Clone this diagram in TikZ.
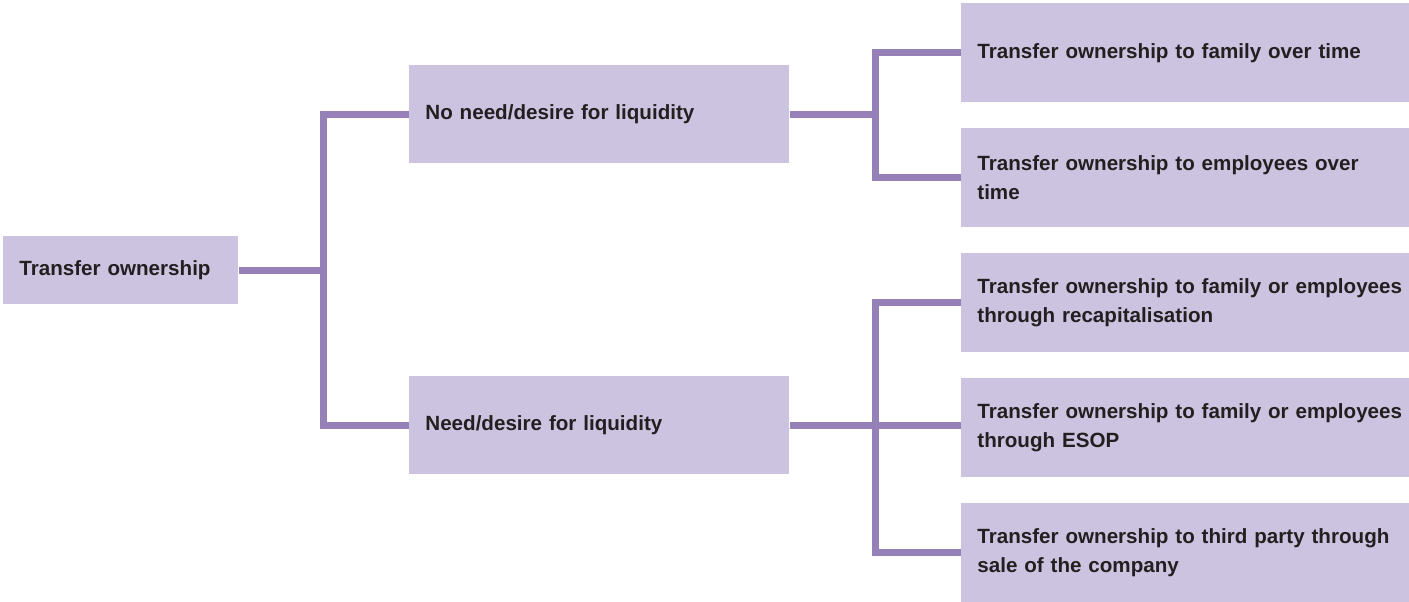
\documentclass[tikz,border=0pt]{standalone}
\usepackage{fontspec}
\setmainfont{Liberation Sans}
\usepackage{tikz}
\usetikzlibrary{calc}
\definecolor{boxfill}{RGB}{203,195,223}
\definecolor{linkcol}{RGB}{150,128,184}
\definecolor{txtcol}{RGB}{35,31,32}
\hyphenpenalty=10000
\exhyphenpenalty=10000

\begin{document}
\begin{tikzpicture}[x=0.5pt,y=-0.5pt,
  box/.style={fill=boxfill,anchor=north west,inner xsep=8pt,inner ysep=0pt,align=left,
    text=txtcol,font=\fontsize{10.3}{14.5}\selectfont\bfseries},
  rootbox/.style={box,text width=101.5pt,minimum height=34pt},
  midbox/.style={box,text width=174pt,minimum height=49pt},
  leafbox/.style={box,text width=216pt,minimum height=49.5pt},
  link/.style={draw=linkcol,line width=3.5pt}]
\clip (0,0) rectangle (1409,601);

% boxes
\node[rootbox] (root) at (3,236) {Transfer ownership};
\node[midbox] (noliq) at (409,65) {No need/desire for liquidity};
\node[midbox] (liq) at (409,376) {Need/desire for liquidity};
\node[leafbox] (family) at (961,3) {Transfer ownership to family over time};
\node[leafbox] (employees) at (961,128) {Transfer ownership to employees over\\time};
\node[leafbox] (recap) at (961,253) {Transfer ownership to family or employees\\through recapitalisation};
\node[leafbox] (esop) at (961,378) {Transfer ownership to family or employees\\through ESOP};
\node[leafbox] (sale) at (961,503) {Transfer ownership to third party through\\sale of the company};

% forks
\coordinate (forkA) at ($(root.east)!.5!(noliq.west)$);
\coordinate (forkB) at ($(noliq.east)!.5!(family.west)$);
\coordinate (forkC) at ($(liq.east)!.5!(recap.west)$);

% connectors
\draw[link] (root.east) -- (root.east -| forkA);
\draw[link] (noliq.west) -| (forkA |- liq.west) -- (liq.west);
\draw[link] (noliq.east) -- (noliq.east -| forkB);
\draw[link] (family.west) -| (forkB |- employees.west) -- (employees.west);
\draw[link] (liq.east) -- (liq.east -| esop.west);
\draw[link] (recap.west) -| (forkC |- sale.west) -- (sale.west);
\end{tikzpicture}
\end{document}
